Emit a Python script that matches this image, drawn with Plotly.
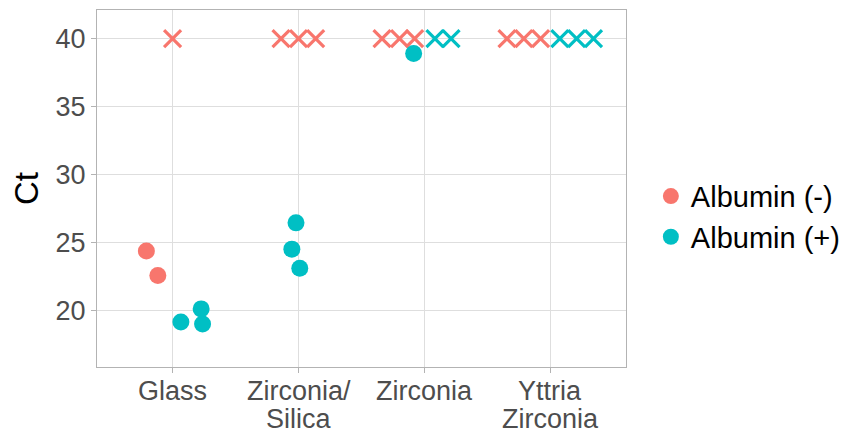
import plotly.graph_objects as go

# Materials on the x axis (each entry is the list of label lines)
materials = [["Glass"], ["Zirconia/", "Silica"], ["Zirconia"], ["Yttria", "Zirconia"]]

# Ct values per sample (40 = not detected), with the material index and horizontal jitter
neg_material = [0, 0, 0, 1, 1, 1, 2, 2, 2, 3, 3, 3]
neg_ct = [24.41, 22.6, 40, 40, 40, 40, 40, 40, 40, 40, 40, 40]
neg_jitter = [-0.208, -0.117, 0.0, -0.139, 0.0, 0.136, -0.337, -0.198, -0.078, -0.345, -0.211, -0.078]

pos_material = [0, 0, 0, 1, 1, 1, 2, 2, 2, 3, 3, 3]
pos_ct = [19.19, 20.15, 19.04, 26.47, 24.54, 23.14, 38.92, 40, 40, 40, 40, 40]
pos_jitter = [0.066, 0.227, 0.238, -0.02, -0.053, 0.01, -0.086, 0.083, 0.211, 0.075, 0.208, 0.342]

y_ticks = [20, 25, 30, 35, 40]
NOT_DETECTED = 40

series = [
    ("Albumin (-)", "#F8766D", neg_material, neg_ct, neg_jitter),
    ("Albumin (+)", "#00BFC4", pos_material, pos_ct, pos_jitter),
]

FONT = "Liberation Sans, Arial, sans-serif"
TICK_FONT = dict(family=FONT, size=27, color="#4D4D4D")

fig = go.Figure()

for name, color, mat, ct, jit in series:
    xs = [m + j for m, j in zip(mat, jit)]
    det = [(x, y) for x, y in zip(xs, ct) if y < NOT_DETECTED]
    nd = [(x, y) for x, y in zip(xs, ct) if y >= NOT_DETECTED]
    fig.add_trace(go.Scatter(
        x=[p[0] for p in det], y=[p[1] for p in det],
        mode="markers", name=name, legendgroup=name,
        marker=dict(symbol="circle", size=17, color=color, line=dict(width=0)),
    ))
    fig.add_trace(go.Scatter(
        x=[p[0] for p in nd], y=[p[1] for p in nd],
        mode="markers", name=name, legendgroup=name, showlegend=False,
        marker=dict(symbol="x-thin", size=17, color=color,
                    line=dict(width=3.2, color=color)),
    ))

axis_common = dict(
    showline=True, mirror=True, linecolor="#B3B3B3", linewidth=1,
    showgrid=True, gridcolor="#DEDEDE", gridwidth=1,
    ticks="outside", ticklen=5, tickcolor="#B3B3B3", tickwidth=1,
    tickfont=TICK_FONT, zeroline=False, automargin=False,
)

fig.update_xaxes(
    range=[-0.6, 3.6], tickmode="array", tickvals=list(range(len(materials))),
    showticklabels=False, **axis_common,
)
fig.update_yaxes(
    range=[15.88, 42.11], tickmode="array", tickvals=y_ticks,
    title=dict(text="Ct", font=dict(family=FONT, size=33, color="#000000"), standoff=7),
    **axis_common,
)

# Category labels under each tick, with tight line spacing for the two-line names
for i, lines in enumerate(materials):
    for k, line in enumerate(lines):
        fig.add_annotation(
            x=i, xref="x", y=0, yref="paper", text=line, showarrow=False,
            xanchor="center", yanchor="middle", yshift=-24 - 28 * k,
            font=TICK_FONT,
        )

fig.update_layout(
    width=845, height=432,
    margin=dict(l=97, r=219, t=10, b=65, autoexpand=False),
    plot_bgcolor="white", paper_bgcolor="white",
    font=dict(family=FONT),
    legend=dict(
        x=1.047, xanchor="left", y=0.421, yanchor="middle",
        font=dict(family=FONT, size=29, color="#000000"),
        bgcolor="rgba(0,0,0,0)", tracegroupgap=0,
    ),
)

fig.write_html("out.html")
